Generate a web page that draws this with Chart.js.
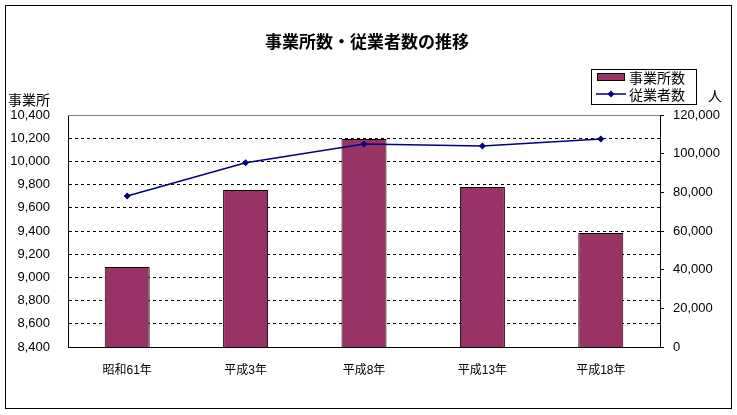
<!DOCTYPE html>
<html>
<head>
<meta charset="utf-8">
<script src="https://cdn.jsdelivr.net/npm/chart.js@4"></script>
<style>
  body { margin: 0; background: #fff; }
  #wrap { width: 737px; height: 415px; position: relative; }
</style>
</head>
<body>
<div id="wrap"><canvas id="chart"></canvas></div>
<script>
// 事業所数・従業者数の推移
const chartTitle = "事業所数・従業者数の推移";
const years = ["昭和61年", "平成3年", "平成8年", "平成13年", "平成18年"];
const offices = [9090, 9753, 10193, 9779, 9383];        // 事業所数 (left axis)
const workers = [78100, 95300, 105000, 104000, 107600]; // 従業者数 (right axis)
const leftAxisName = "事業所";
const rightAxisName = "人";

const NUM_FONT = "'Liberation Sans', 'Noto Sans CJK JP', sans-serif";
const JP_FONT = "'Noto Sans CJK JP', sans-serif";

// frame, title, legend, axis names and gray top edge of the plot
const decorations = {
  id: "decorations",
  afterDraw(chart) {
    const c = chart.ctx;
    const area = chart.chartArea;
    c.save();
    // outer frame
    c.strokeStyle = "#000";
    c.lineWidth = 1;
    c.strokeRect(5.5, 5.5, 726, 403);

    // plot top edge
    c.strokeStyle = "#808080";
    c.beginPath();
    c.moveTo(area.left, Math.round(area.top) + 0.5);
    c.lineTo(area.right, Math.round(area.top) + 0.5);
    c.stroke();

    // title
    c.fillStyle = "#000";
    c.font = "bold 17px " + JP_FONT;
    c.textAlign = "center";
    c.textBaseline = "middle";
    c.fillText(chartTitle, 367, 42);

    // axis names
    c.font = "14px " + JP_FONT;
    c.textAlign = "left";
    c.fillText(leftAxisName, 8, 100);
    c.fillText(rightAxisName, 708, 96);

    // legend box
    c.strokeStyle = "#000";
    c.strokeRect(591.5, 69.5, 105, 35);
    const ds = chart.data.datasets;
    // bar swatch
    c.fillStyle = "#993366";
    c.fillRect(597, 73, 28, 8);
    c.strokeRect(597.5, 73.5, 27, 7);
    // line swatch
    c.strokeStyle = "#000080";
    c.lineWidth = 1.5;
    c.beginPath();
    c.moveTo(596, 94);
    c.lineTo(626, 94);
    c.stroke();
    c.fillStyle = "#000080";
    c.beginPath();
    c.moveTo(611, 90.5); c.lineTo(614.5, 94); c.lineTo(611, 97.5); c.lineTo(607.5, 94);
    c.closePath();
    c.fill();
    c.fillStyle = "#000";
    c.font = "14px " + JP_FONT;
    c.fillText(ds[1].label, 629, 78);
    c.fillText(ds[0].label, 629, 95);
    c.restore();
  }
};

const ctx = document.getElementById("chart").getContext("2d");
const chart = new Chart(ctx, {
  type: "bar",
  data: {
    labels: years,
    datasets: [{
      type: "line",
      label: "従業者数",
      data: workers,
      yAxisID: "y1",
      borderColor: "#000080",
      backgroundColor: "#000080",
      borderWidth: 1.5,
      pointStyle: "rectRot",
      pointRadius: 3.5,
      pointBorderWidth: 0,
      tension: 0,
      fill: false,
      order: 0
    }, {
      label: "事業所数",
      data: offices,
      yAxisID: "y",
      backgroundColor: "#993366",
      borderColor: "#000",
      borderWidth: 1,
      borderSkipped: false,
      barPercentage: 0.38,
      categoryPercentage: 1,
      order: 1
    }]
  },
  options: {
    responsive: true,
    maintainAspectRatio: false,
    animation: false,
    layout: { padding: { top: 115, left: 0, right: 0, bottom: 0 } },
    plugins: {
      legend: { display: false },
      title: { display: false },
      tooltip: { enabled: false }
    },
    scales: {
      x: {
        grid: { display: false },
        border: { display: true, color: "#000", width: 1 },
        ticks: { color: "#000", padding: 8, font: { family: NUM_FONT, size: 12 } },
        afterFit: (s) => { s.height = 415 - 347; }
      },
      y: {
        position: "left",
        min: 8400,
        max: 10400,
        ticks: {
          stepSize: 200,
          color: "#000",
          padding: 18,
          font: { family: NUM_FONT, size: 13 },
          callback: (v) => v.toLocaleString("en-US")
        },
        grid: {
          color: (c) => (c.tick && c.tick.value === 10400 ? "rgba(0,0,0,0)" : "#000"),
          lineWidth: 1,
          drawTicks: false
        },
        border: { display: true, color: "#000", width: 1, dash: [3, 3] },
        afterFit: (s) => { s.width = 68; }
      },
      y1: {
        position: "right",
        min: 0,
        max: 120000,
        ticks: {
          stepSize: 20000,
          color: "#000",
          padding: 9,
          font: { family: NUM_FONT, size: 13 },
          callback: (v) => v.toLocaleString("en-US")
        },
        grid: {
          drawOnChartArea: false,
          drawTicks: true,
          tickLength: 4,
          color: "#000"
        },
        border: { display: true, color: "#000", width: 1 },
        afterFit: (s) => { s.width = 737 - 660; }
      }
    }
  },
  plugins: [decorations]
});
</script>
</body>
</html>
